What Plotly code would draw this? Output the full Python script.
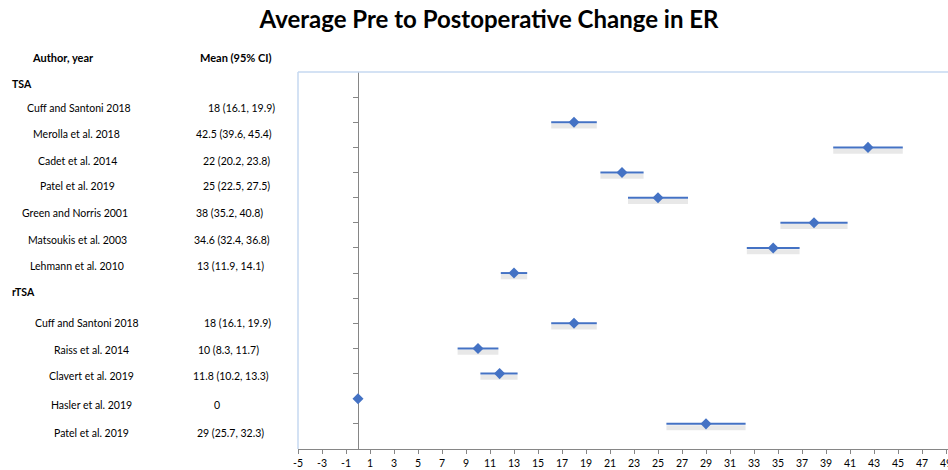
import plotly.graph_objects as go

# ---------------- data ----------------
title_text = "Average Pre to Postoperative Change in ER"
group_names = ["TSA", "rTSA"]
tsa_authors = ["Cuff and Santoni 2018", "Merolla et al. 2018", "Cadet et al. 2014",
               "Patel et al. 2019", "Green and Norris 2001", "Matsoukis et al. 2003",
               "Lehmann et al. 2010"]
tsa_mean = [18, 42.5, 22, 25, 38, 34.6, 13]
tsa_lower = [16.1, 39.6, 20.2, 22.5, 35.2, 32.4, 11.9]
tsa_upper = [19.9, 45.4, 23.8, 27.5, 40.8, 36.8, 14.1]
tsa_ci_text = ["18 (16.1, 19.9)", "42.5 (39.6, 45.4)", "22 (20.2, 23.8)",
               "25 (22.5, 27.5)", "38 (35.2, 40.8)", "34.6 (32.4, 36.8)",
               "13 (11.9, 14.1)"]

rtsa_authors = ["Cuff and Santoni 2018", "Raiss et al. 2014", "Clavert et al. 2019",
                "Hasler et al. 2019", "Patel et al. 2019"]
rtsa_mean = [18, 10, 11.8, 0, 29]
rtsa_lower = [16.1, 8.3, 10.2, None, 25.7]
rtsa_upper = [19.9, 11.7, 13.3, None, 32.3]
rtsa_ci_text = ["18 (16.1, 19.9)", "10 (8.3, 11.7)", "11.8 (10.2, 13.3)", "0",
                "29 (25.7, 32.3)"]

x_tick_vals = list(range(-5, 52, 2))
x_tick_labels = [str(v) for v in x_tick_vals]

# ---------------- layout geometry ----------------
# figure is a little wider than the 948px window so the chart is cut at the right edge
W, H = 962, 470
L, R, T, B = 298, 0, 72, 21
plot_w = W - L - R
plot_h = H - T - B
px_per_unit = 12.0
x_min = -5
x_max = x_min + plot_w / px_per_unit
n_rows = 15  # y range 0..15

# row positions: TSA rows from top, one blank row, then rTSA rows
authors = tsa_authors + rtsa_authors
means = tsa_mean + rtsa_mean
lowers = tsa_lower + rtsa_lower
uppers = tsa_upper + rtsa_upper
ci_texts = tsa_ci_text + rtsa_ci_text
rows = []
r = n_rows - 2
for _ in tsa_authors:
    rows.append(r); r -= 1
r -= 1
for _ in rtsa_authors:
    rows.append(r); r -= 1

blue = "#4472C4"
shadow_off = 0.15

lx, ly, sx, sy = [], [], [], []
for lo, hi, yy in zip(lowers, uppers, rows):
    if lo is None:
        continue
    lx += [lo, hi, None]; ly += [yy, yy, None]
    sx += [lo, hi, None]; sy += [yy - shadow_off, yy - shadow_off, None]

fig = go.Figure()
fig.add_trace(go.Scatter(x=sx, y=sy, mode="lines",
                         line=dict(color="rgba(0,0,0,0.09)", width=5),
                         hoverinfo="skip", showlegend=False))
fig.add_trace(go.Scatter(x=lx, y=ly, mode="lines",
                         line=dict(color=blue, width=2),
                         hoverinfo="skip", showlegend=False))
fig.add_trace(go.Scatter(x=means, y=rows, mode="markers",
                         marker=dict(symbol="diamond", size=8.5, color=blue),
                         showlegend=False))

# ---------------- table text (annotations, pixel positions) ----------------
font_name = "Lato"
def px2paper(px, py):
    return (px - L) / plot_w, (H - B - py) / plot_h

annos = []
def add_text(txt, px, py, bold=False, anchor="center", size=10.5):
    xp, yp = px2paper(px, py)
    annos.append(dict(text=("<b>%s</b>" % txt) if bold else txt, x=xp, y=yp,
                      xref="paper", yref="paper", xanchor=anchor, yanchor="middle",
                      showarrow=False, font=dict(family=font_name, size=size, color="#000000")))

add_text("Author, year", 63, 57, bold=True, size=11)
add_text("Mean (95% CI)", 236, 57, bold=True, size=11)
add_text(group_names[0], 10, 84, bold=True, anchor="left", size=10.5)
add_text(group_names[1], 10, 292, bold=True, anchor="left", size=10.5)

name_px = [79, 76, 77, 77, 75, 77, 77, 87, 92, 91, 92, 91]
name_py = [108, 134, 161, 186, 213, 240, 266, 323, 350, 376, 405, 433]
ci_px = [241, 234, 236, 236, 229, 232, 230, 237, 228, 231, 217, 230]
for a, c, nx, ny, cx in zip(authors, ci_texts, name_px, name_py, ci_px):
    add_text(a, nx, ny)
    add_text(c, cx, ny)

fig.update_layout(
    width=W, height=H,
    margin=dict(l=L, r=R, t=T, b=B),
    paper_bgcolor="white", plot_bgcolor="white",
    title=dict(text="<b>%s</b>" % title_text, x=489 / W, xanchor="center",
               y=1 - 20 / H, yanchor="middle",
               font=dict(family=font_name, size=24, color="#000000")),
    annotations=annos,
    shapes=[
        dict(type="line", xref="paper", yref="paper", x0=0, x1=1, y0=1, y1=1,
             line=dict(color="#C6D9F1", width=1.5)),
        dict(type="line", xref="paper", yref="paper", x0=0, x1=0, y0=0, y1=1,
             line=dict(color="#C6D9F1", width=1.5)),
    ],
    xaxis=dict(range=[x_min, x_max], tickvals=x_tick_vals, ticktext=x_tick_labels,
               showgrid=False, zeroline=False, showline=True, linecolor="#868686",
               linewidth=1, ticks="outside", ticklen=4, tickcolor="#868686",
               tickfont=dict(family=font_name, size=10.5, color="#000000")),
    yaxis=dict(range=[0, n_rows], tickvals=list(range(1, n_rows)),
               showticklabels=False, showgrid=False, zeroline=False,
               showline=True, linecolor="#868686", linewidth=1,
               ticks="outside", ticklen=5, tickcolor="#868686",
               layer="below traces",
               anchor="free", position=(0 - x_min) / (x_max - x_min)),
)

fig.write_html("out.html", config={"displayModeBar": False},
               post_script="document.body.style.margin='0';document.body.style.overflow='hidden';")
